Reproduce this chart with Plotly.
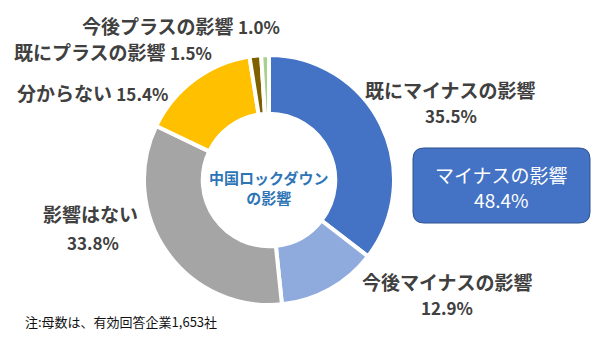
import plotly.graph_objects as go

# Survey answers (share of companies, %)
categories = ["既にマイナスの影響", "今後マイナスの影響", "影響はない",
              "分からない", "既にプラスの影響", "今後プラスの影響"]
values = [35.5, 12.9, 33.8, 15.4, 1.5, 1.0]
colors = ["#4472C4", "#8FAADC", "#A5A5A5", "#FFC000", "#7F6000", "#A9D18E"]

center_title = "中国ロックダウン<br>の影響"
minus_title = "マイナスの影響"
note = "注:母数は、有効回答企業1,653社"

W, H = 602, 344
FONT = "Noto Sans CJK JP"
LABEL_COLOR = "#404040"
NAME_SIZE = 19
NUM_SIZE = 17


def px(x):
    return x / W


def py(y):
    return 1 - y / H


cx, cy, r = 269, 180, 125

fig = go.Figure(go.Pie(
    labels=categories,
    values=values,
    sort=False,
    direction="clockwise",
    rotation=0,
    hole=0.53,
    marker=dict(colors=colors, line=dict(color="white", width=4)),
    textinfo="none",
    hoverinfo="label+percent",
    domain=dict(x=[px(cx - r), px(cx + r)], y=[py(cy + r), py(cy - r)]),
    showlegend=False,
))

annotations = []


def add_text(text, x, y, size, color=LABEL_COLOR, bold=True):
    annotations.append(dict(
        text=f"<b>{text}</b>" if bold else text,
        x=px(x), y=py(y), xref="paper", yref="paper",
        xanchor="center", yanchor="middle", showarrow=False,
        font=dict(family=FONT, size=size, color=color),
    ))


def pct(v):
    return f"{v:.1f}%"


def num_span(v):
    return f'<span style="font-size:{NUM_SIZE}px">{pct(v)}</span>'


# slice labels: name above value, or name and value on one line
add_text(categories[0], 450, 89, NAME_SIZE)
add_text(pct(values[0]), 451, 116, NUM_SIZE)
add_text(categories[1], 447, 281, NAME_SIZE)
add_text(pct(values[1]), 447, 307, NUM_SIZE)
add_text(categories[2], 90, 213, NAME_SIZE)
add_text(pct(values[2]), 93, 242, NUM_SIZE)
add_text(f"{categories[3]} {num_span(values[3])}", 92, 92, NAME_SIZE)
add_text(f"{categories[4]} {num_span(values[4])}", 113, 51, NAME_SIZE)
add_text(f"{categories[5]} {num_span(values[5])}", 181, 25, NAME_SIZE)

# title in the hole
add_text(center_title, 268, 187, 15, color="#2E75B6")

# combined minus share box
minus_total = values[0] + values[1]
add_text(f"{minus_title}<br>{pct(minus_total)}", 501, 187, 19,
         color="white", bold=False)

# footnote
annotations.append(dict(
    text=note, x=px(23), y=py(321), xref="paper", yref="paper",
    xanchor="left", yanchor="middle", showarrow=False,
    font=dict(family=FONT, size=13, color="#111111"),
))

# rounded rectangle behind the minus total
x0, x1, y0, y1, rr = 413, 590, 148, 223, 11


def pt(x, y):
    return f"{px(x):.5f},{py(y):.5f}"


path = (
    f"M {pt(x0 + rr, y0)} L {pt(x1 - rr, y0)} Q {pt(x1, y0)} {pt(x1, y0 + rr)} "
    f"L {pt(x1, y1 - rr)} Q {pt(x1, y1)} {pt(x1 - rr, y1)} "
    f"L {pt(x0 + rr, y1)} Q {pt(x0, y1)} {pt(x0, y1 - rr)} "
    f"L {pt(x0, y0 + rr)} Q {pt(x0, y0)} {pt(x0 + rr, y0)} Z"
)

fig.update_layout(
    width=W, height=H,
    margin=dict(l=0, r=0, t=0, b=0),
    paper_bgcolor="white",
    plot_bgcolor="white",
    annotations=annotations,
    shapes=[dict(type="path", path=path, xref="paper", yref="paper",
                 fillcolor="#4472C4", line=dict(color="#2F528F", width=1),
                 layer="below")],
)

fig.write_html("out.html")
